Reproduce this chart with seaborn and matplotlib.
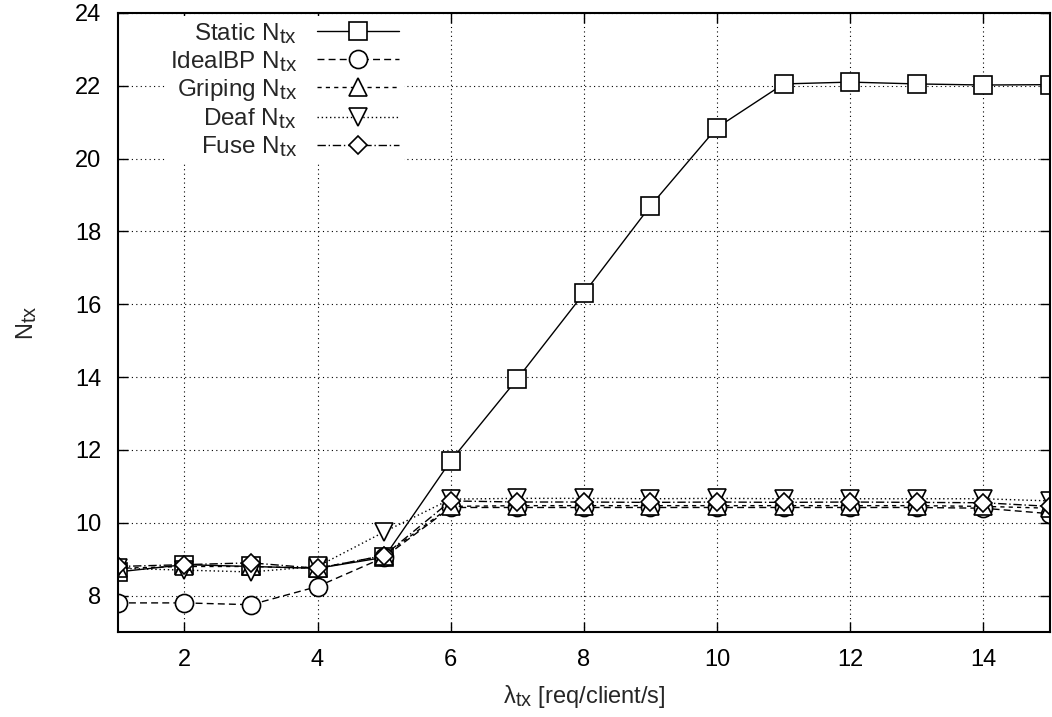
import matplotlib
matplotlib.use("Agg")
import matplotlib.pyplot as plt
import matplotlib._mathtext as _mt
import seaborn as sns
import pandas as pd
import numpy as np

_mt.SHRINK_FACTOR = 0.85

x = list(range(1, 16))
static = [8.65, 8.85, 8.8, 8.75, 9.05, 11.7, 13.95, 16.3, 18.7, 20.85, 22.05, 22.1, 22.05, 22.02, 22.03]
idealbp = [7.8, 7.8, 7.75, 8.25, 9.05, 10.42, 10.42, 10.42, 10.42, 10.42, 10.42, 10.42, 10.42, 10.4, 10.25]
griping = [8.75, 8.8, 8.8, 8.75, 9.1, 10.45, 10.47, 10.47, 10.47, 10.47, 10.47, 10.47, 10.47, 10.45, 10.4]
deaf = [8.75, 8.7, 8.65, 8.8, 9.75, 10.65, 10.67, 10.67, 10.66, 10.67, 10.66, 10.66, 10.66, 10.66, 10.6]
fuse = [8.8, 8.85, 8.9, 8.75, 9.1, 10.6, 10.57, 10.57, 10.56, 10.57, 10.56, 10.57, 10.56, 10.55, 10.45]

names = ["Static", "IdealBP", "Griping", "Deaf", "Fuse"]
series = [static, idealbp, griping, deaf, fuse]
styles = ["-", (0, (5, 3)), (0, (3, 3)), (0, (1, 2)), (0, (6, 2, 1, 2))]
markers = ["s", "o", "^", "v", "D"]
msizes = [12.5, 13, 13, 13, 8.7]

sns.set_theme(style="ticks")
plt.rcParams['font.family'] = ['Liberation Sans', 'DejaVu Sans']
plt.rcParams['mathtext.fontset'] = 'custom'
plt.rcParams['mathtext.rm'] = 'Liberation Sans'
plt.rcParams['mathtext.it'] = 'Liberation Sans'

FS = 17
LFS = 17.5
fig = plt.figure(figsize=(10.52, 7.17), dpi=100)
ax = fig.add_axes([0.112, 0.1185, 0.886, 0.8635])

for name, vals, ls, mk, ms in zip(names, series, styles, markers, msizes):
    df = pd.DataFrame({"x": x, "y": vals})
    sns.lineplot(data=df, x="x", y="y", ax=ax, color="black", linewidth=1.0,
                 linestyle=ls, marker=mk, markersize=ms, markerfacecolor="white",
                 markeredgecolor="black", markeredgewidth=1.2,
                 label=name + r" N$_{\mathregular{tx}}$")

ax.set_xlim(1, 15)
ax.set_ylim(7, 24)
ax.set_xticks(range(2, 15, 2))
ax.set_yticks(range(8, 25, 2))
ax.grid(True, linestyle=(0, (1, 3)), color="black", linewidth=0.8)
ax.tick_params(direction="in", top=True, right=True, length=7, width=1,
               labelsize=FS, colors="black", pad=12)
for s in ax.spines.values():
    s.set_linewidth(1.5)
    s.set_color("black")
ax.set_xlabel(r"$\mathregular{\lambda_{tx}}$ [req/client/s]", fontsize=FS, labelpad=9)
ax.set_ylabel(r"N$_{\mathregular{tx}}$", fontsize=FS, labelpad=26)

leg = ax.legend(loc="upper right", bbox_to_anchor=(404 / 1052, 1 - 16 / 717),
                bbox_transform=fig.transFigure, frameon=True, fancybox=False,
                facecolor="white", edgecolor="none", framealpha=1.0,
                markerfirst=False, fontsize=LFS, handlelength=3.4,
                labelspacing=0.13, borderpad=0.2, borderaxespad=0.0, handletextpad=0.8)
for t in leg.get_texts():
    t.set_ha("right")
leg._legend_box.align = "right"

fig.savefig("out.png", dpi=100)
